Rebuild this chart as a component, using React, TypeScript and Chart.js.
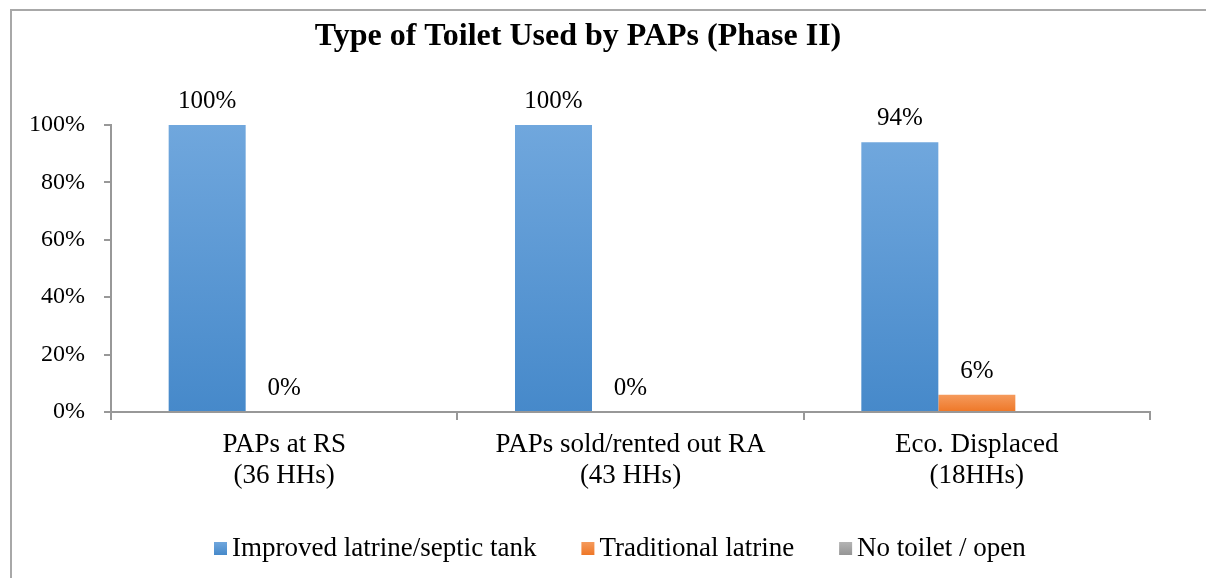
import React, { useEffect, useRef } from "react";
import { Chart, registerables } from "chart.js";

Chart.register(...registerables);

const TITLE = "Type of Toilet Used by PAPs (Phase II)";
const categories: string[][] = [
  ["PAPs at RS", "(36 HHs)"],
  ["PAPs sold/rented out RA", "(43 HHs)"],
  ["Eco. Displaced", "(18HHs)"],
];
const seriesNames = ["Improved latrine/septic tank", "Traditional latrine", "No toilet / open"];
const improved = [100, 100, 94];
const traditional = [0, 0, 6];
const noToilet: (number | null)[] = [null, null, null];
const labelledSeries = [0, 1];

const FONT = "'Liberation Serif', 'Times New Roman', serif";
const AXIS_COLOR = "#989898";
const GRADS: [string, string][] = [
  ["#70a7dd", "#4689ca"],
  ["#f59a5c", "#ee7727"],
  ["#b4b4b4", "#959595"],
];

function barGradient(top: string, bottom: string) {
  return (ctx: any) => {
    const chart = ctx.chart;
    const y = chart.scales && chart.scales.y;
    if (!y || ctx.type !== "data" || ctx.raw == null) return bottom;
    const y0 = y.getPixelForValue(0);
    const y1 = y.getPixelForValue(ctx.raw);
    if (!isFinite(y0) || !isFinite(y1) || Math.abs(y0 - y1) < 0.5) return bottom;
    const g = chart.ctx.createLinearGradient(0, y1, 0, y0);
    g.addColorStop(0, top);
    g.addColorStop(1, bottom);
    return g;
  };
}

const decorPlugin = {
  id: "decor",
  afterDatasetsDraw(chart: any) {
    const ctx = chart.ctx;
    ctx.save();
    ctx.font = `25px ${FONT}`;
    ctx.fillStyle = "#000";
    ctx.textAlign = "center";
    ctx.textBaseline = "alphabetic";
    labelledSeries.forEach((di) => {
      const meta = chart.getDatasetMeta(di);
      meta.data.forEach((el: any, i: number) => {
        const v = chart.data.datasets[di].data[i];
        if (v == null) return;
        ctx.fillText(`${v}%`, el.x, el.y - 17);
      });
    });
    ctx.restore();
  },
  afterDraw(chart: any) {
    const ctx = chart.ctx;
    ctx.save();
    // title
    ctx.font = `bold 32px ${FONT}`;
    ctx.fillStyle = "#000";
    ctx.textAlign = "center";
    ctx.textBaseline = "alphabetic";
    ctx.fillText(TITLE, 578, 45);
    // legend
    ctx.font = `27px ${FONT}`;
    ctx.textAlign = "left";
    const box = 13;
    const gapText = 5;
    const gapItem = 45;
    let x = 214;
    const baseline = 556;
    seriesNames.forEach((name, i) => {
      const g = ctx.createLinearGradient(0, baseline - 14, 0, baseline - 1);
      g.addColorStop(0, GRADS[i][0]);
      g.addColorStop(1, GRADS[i][1]);
      ctx.fillStyle = g;
      ctx.fillRect(x, baseline - 14, box, box);
      ctx.fillStyle = "#000";
      ctx.fillText(name, x + box + gapText, baseline);
      x += box + gapText + ctx.measureText(name).width + gapItem;
    });
    ctx.restore();
  },
};

export default function App() {
  const ref = useRef<HTMLCanvasElement | null>(null);
  useEffect(() => {
    if (!ref.current) return;
    const chart = new Chart(ref.current, {
      type: "bar",
      data: {
        labels: categories,
        datasets: [
          { label: seriesNames[0], data: improved, backgroundColor: barGradient(GRADS[0][0], GRADS[0][1]) },
          { label: seriesNames[1], data: traditional, backgroundColor: barGradient(GRADS[1][0], GRADS[1][1]) },
          { label: seriesNames[2], data: noToilet, backgroundColor: barGradient(GRADS[2][0], GRADS[2][1]) },
        ],
      },
      options: {
        responsive: false,
        animation: false,
        layout: { padding: { top: 125, right: 56, bottom: 86, left: 0 } },
        datasets: { bar: { categoryPercentage: 0.667, barPercentage: 1, borderWidth: 0 } },
        plugins: {
          legend: { display: false },
          title: { display: false },
          tooltip: { enabled: false },
        },
        scales: {
          x: {
            afterFit: (s: any) => {
              s.height = 80;
            },
            grid: { drawOnChartArea: false, drawTicks: true, tickLength: 8, color: AXIS_COLOR, lineWidth: 2, offset: true },
            border: { color: AXIS_COLOR, width: 2 },
            ticks: { color: "#000", padding: 10, font: { family: FONT, size: 27, lineHeight: 1.13 }, maxRotation: 0, autoSkip: false },
          },
          y: {
            min: 0,
            max: 100,
            afterFit: (s: any) => {
              s.width = 111;
            },
            grid: { drawOnChartArea: false, drawTicks: true, tickLength: 7, color: AXIS_COLOR, lineWidth: 2 },
            border: { color: AXIS_COLOR, width: 2 },
            ticks: {
              stepSize: 20,
              color: "#000",
              padding: 19,
              font: { family: FONT, size: 24 },
              callback: (v: any) => `${v}%`,
            },
          },
        },
      },
      plugins: [decorPlugin],
    });
    return () => chart.destroy();
  }, []);
  return (
    <div style={{ position: "fixed", left: 0, top: 0, width: 1206, height: 578, overflow: "hidden", background: "#fff" }}>
      <div
        style={{
          position: "absolute",
          left: 10,
          top: 9,
          width: 1400,
          height: 800,
          borderLeft: "2px solid #a8a8a8",
          borderTop: "2px solid #a8a8a8",
        }}
      />
      <canvas ref={ref} width={1206} height={578} style={{ position: "absolute", left: 0, top: 0, width: 1206, height: 578 }} />
    </div>
  );
}
